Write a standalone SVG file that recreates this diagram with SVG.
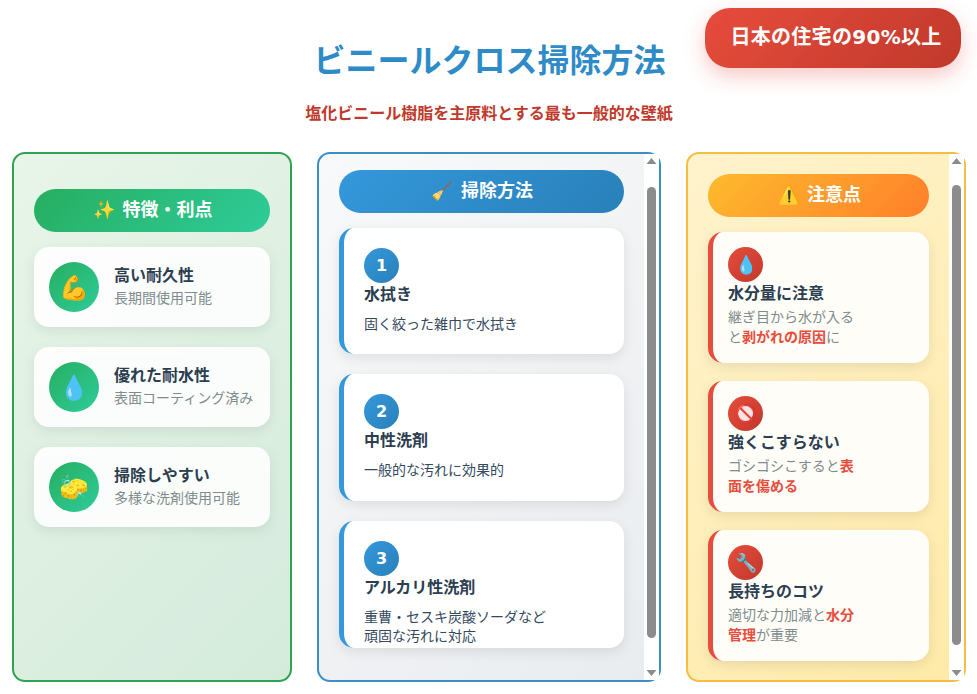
<svg xmlns="http://www.w3.org/2000/svg" width="977" height="694" viewBox="0 0 977 694">
<style>
text{font-family:"Noto Sans CJK JP","Noto Sans",sans-serif}
.h{font-size:18px;font-weight:700;fill:#fff}
.he{font-size:18px;text-anchor:middle}
.t{font-size:16px;font-weight:700;fill:#2c3e50}
.d{font-size:14px;fill:#7f8c8d}
.s{font-size:14px;fill:#34495e}
.r{font-weight:700;fill:#e74c3c}
.n{font-family:"DejaVu Sans",sans-serif;font-size:16px;font-weight:700;fill:#fff;text-anchor:middle}
.e{font-size:24px;text-anchor:middle}
.e2{font-size:18px;text-anchor:middle}
.card{fill:#fff;fill-opacity:.9;filter:url(#sh)}
.wc{fill:#fff;filter:url(#sh)}
.yc{fill:#fffdf8;filter:url(#sh)}
.bb{fill:#3498db}
.rb{fill:#e74c3c}
.sb{fill:#8c8c8c}
.lat{font-family:"DejaVu Sans",sans-serif}
</style>
<defs>
<linearGradient id="sg"><stop offset="0" stop-color="#27ae60"/><stop offset="1" stop-color="#2ecc9a"/></linearGradient>
<linearGradient id="sb"><stop offset="0" stop-color="#3498db"/><stop offset="1" stop-color="#2980b9"/></linearGradient>
<linearGradient id="so"><stop offset="0" stop-color="#fdbb2d"/><stop offset="1" stop-color="#ff7f2a"/></linearGradient>
<linearGradient id="sr"><stop offset="0" stop-color="#e74c3c"/><stop offset="1" stop-color="#c0392b"/></linearGradient>
<linearGradient id="gg" href="#sg" x1="0" y1="0" x2="1" y2="1"/>
<linearGradient id="gb" href="#sb" x1="0" y1="0" x2="1" y2="1"/>
<linearGradient id="gr" href="#sr" x1="0" y1="0" x2="1" y2="1"/>
<linearGradient id="hg" href="#sg" gradientUnits="userSpaceOnUse" x1="82.250" y1="140.750" x2="221.750" y2="280.250"/>
<linearGradient id="hb" href="#sb" gradientUnits="userSpaceOnUse" x1="399.500" y1="109.500" x2="563.500" y2="273.500"/>
<linearGradient id="ho" href="#so" gradientUnits="userSpaceOnUse" x1="752.500" y1="129.500" x2="884.500" y2="261.500"/>
<linearGradient id="hr" href="#sr" gradientUnits="userSpaceOnUse" x1="754" y1="-41" x2="912" y2="117"/>
<linearGradient id="gp1" gradientUnits="userSpaceOnUse" x1="-49.500" y1="215.500" x2="353.500" y2="618.500"><stop offset="0" stop-color="#e8f5e9"/><stop offset="1" stop-color="#d4ebdc"/></linearGradient>
<linearGradient id="gp2" gradientUnits="userSpaceOnUse" x1="271.500" y1="199.500" x2="706.500" y2="634.500"><stop offset="0" stop-color="#f8f9fa"/><stop offset="1" stop-color="#e9ecef"/></linearGradient>
<linearGradient id="gp3" gradientUnits="userSpaceOnUse" x1="624.500" y1="215.500" x2="1027.500" y2="618.500"><stop offset="0" stop-color="#fff3cd"/><stop offset="1" stop-color="#ffeaa7"/></linearGradient>
<filter id="sh" x="-20%" y="-20%" width="140%" height="150%"><feDropShadow dx="0" dy="4" stdDeviation="6" flood-color="#000" flood-opacity=".09"/></filter>
<filter id="shr" x="-20%" y="-40%" width="140%" height="200%"><feDropShadow dx="0" dy="8" stdDeviation="10" flood-color="#e74c3c" flood-opacity=".3"/></filter>
</defs>
<rect width="977" height="694" fill="#fff"/>
<g id="title">
<text x="489.500" y="72" font-size="32" font-weight="700" text-anchor="middle" style="fill:#2e8bc8">ビニールクロス掃除方法</text>
<text x="489" y="119" font-size="16" font-weight="700" text-anchor="middle" style="fill:#c0392b">塩化ビニール樹脂を主原料とする最も一般的な壁紙</text>
</g>
<g id="badge">
<rect x="705" y="8" width="256" height="60" rx="25" fill="url(#hr)" filter="url(#shr)"/>
<text x="836" y="44" font-size="20" font-weight="700" fill="#fff" text-anchor="middle" letter-spacing=".3">日本の住宅の<tspan class="lat">90%</tspan>以上</text>
</g>
<g id="panel-features">
<rect x="13" y="153" width="278" height="528" rx="12" fill="url(#gp1)" stroke="#2fa352" stroke-width="2"/>
<g id="features-header"><rect x="34" y="189" width="236" height="43" rx="21.500" fill="url(#hg)"/><text class="he" x="104" y="216">✨</text><text class="h" x="122.500" y="216">特徴・利点</text></g>
<g id="feature-1"><rect class="card" x="34" y="247" width="236" height="80" rx="15"/><circle cx="74" cy="287" r="25" fill="url(#gg)"/><text class="e" x="74" y="296">💪</text><text class="t" x="114" y="281">高い耐久性</text><text class="d" x="114" y="303">長期間使用可能</text></g>
<g id="feature-2"><rect class="card" x="34" y="347" width="236" height="80" rx="15"/><circle cx="74" cy="387" r="25" fill="url(#gg)"/><text class="e" x="74" y="396">💧</text><text class="t" x="114" y="381">優れた耐水性</text><text class="d" x="114" y="403">表面コーティング済み</text></g>
<g id="feature-3"><rect class="card" x="34" y="447" width="236" height="80" rx="15"/><circle cx="74" cy="487" r="25" fill="url(#gg)"/><text class="e" x="74" y="496">🧽</text><text class="t" x="114" y="481">掃除しやすい</text><text class="d" x="114" y="503">多様な洗剤使用可能</text></g>
</g>
<g id="panel-method">
<rect x="318" y="153" width="342" height="528" rx="12" fill="url(#gp2)" stroke="#3a8fc7" stroke-width="2"/>
<rect x="644" y="154" width="15" height="526" fill="#fff"/>
<path class="sb" d="M651.500 158l5 6h-10z M651.500 676l5-6h-10z"/>
<rect class="sb" x="647" y="187" width="9" height="451" rx="4.500"/>
<g id="method-header"><rect x="339" y="170" width="285" height="43" rx="21.500" fill="url(#hb)"/><text class="he" x="442" y="197">🧹</text><text class="h" x="461" y="197">掃除方法</text></g>
<g id="step-1"><rect class="wc" x="339" y="228" width="285" height="126" rx="15"/><path class="bb" d="M354 228A15 15 0 0 0 339 243V339A15 15 0 0 0 354 354A10 15 0 0 1 344 339V243A10 15 0 0 1 354 228Z"/><circle cx="381.500" cy="265.500" r="17.500" fill="url(#gb)"/><text class="n" x="381.500" y="271">1</text><text class="t" x="364" y="300">水拭き</text><text class="s" x="364" y="329">固く絞った雑巾で水拭き</text></g>
<g id="step-2"><rect class="wc" x="339" y="374" width="285" height="127" rx="15"/><path class="bb" d="M354 374A15 15 0 0 0 339 389V486A15 15 0 0 0 354 501A10 15 0 0 1 344 486V389A10 15 0 0 1 354 374Z"/><circle cx="381.500" cy="411.500" r="17.500" fill="url(#gb)"/><text class="n" x="381.500" y="417">2</text><text class="t" x="364" y="446">中性洗剤</text><text class="s" x="364" y="475">一般的な汚れに効果的</text></g>
<g id="step-3"><rect class="wc" x="339" y="521" width="285" height="127" rx="15"/><path class="bb" d="M354 521A15 15 0 0 0 339 536V633A15 15 0 0 0 354 648A10 15 0 0 1 344 633V536A10 15 0 0 1 354 521Z"/><circle cx="381.500" cy="558.500" r="17.500" fill="url(#gb)"/><text class="n" x="381.500" y="564">3</text><text class="t" x="364" y="593">アルカリ性洗剤</text><text class="s" x="364" y="622">重曹・セスキ炭酸ソーダなど</text><text class="s" x="364" y="641">頑固な汚れに対応</text></g>
</g>
<g id="panel-caution">
<rect x="687" y="153" width="278" height="528" rx="12" fill="url(#gp3)" stroke="#f5bd41" stroke-width="2"/>
<rect x="949" y="154" width="15" height="526" fill="#fff"/>
<path class="sb" d="M956.500 158l5 6h-10z M956.500 676l5-6h-10z"/>
<rect class="sb" x="952" y="185" width="9" height="460" rx="4.500"/>
<g id="caution-header"><rect x="708" y="174" width="221" height="43" rx="21.500" fill="url(#ho)"/><text class="he" x="789" y="201">⚠️</text><text class="h" x="807" y="201">注意点</text></g>
<g id="caution-1"><rect class="yc" x="708" y="232" width="221" height="131" rx="15"/><path class="rb" d="M723 232A15 15 0 0 0 708 247V348A15 15 0 0 0 723 363A10 15 0 0 1 713 348V247A10 15 0 0 1 723 232Z"/><circle cx="745.500" cy="264.500" r="17.500" fill="url(#gr)"/><text class="e2" x="745.500" y="271">💧</text><text class="t" x="728" y="299">水分量に注意</text><text class="d" x="728" y="322">継ぎ目から水が入る</text><text class="d" x="728" y="342">と<tspan class="r">剥がれの原因</tspan>に</text></g>
<g id="caution-2"><rect class="yc" x="708" y="381" width="221" height="131" rx="15"/><path class="rb" d="M723 381A15 15 0 0 0 708 396V497A15 15 0 0 0 723 512A10 15 0 0 1 713 497V396A10 15 0 0 1 723 381Z"/><circle cx="745.500" cy="413.500" r="17.500" fill="url(#gr)"/><circle cx="745.500" cy="413.500" r="7.500" fill="#fbe3e3"/><text class="e2" x="745.500" y="420">🚫</text><text class="t" x="728" y="448">強くこすらない</text><text class="d" x="728" y="471">ゴシゴシこすると<tspan class="r">表</tspan></text><text class="d" x="728" y="491"><tspan class="r">面を傷める</tspan></text></g>
<g id="caution-3"><rect class="yc" x="708" y="530" width="221" height="131" rx="15"/><path class="rb" d="M723 530A15 15 0 0 0 708 545V646A15 15 0 0 0 723 661A10 15 0 0 1 713 646V545A10 15 0 0 1 723 530Z"/><circle cx="745.500" cy="562.500" r="17.500" fill="url(#gr)"/><text class="e2" x="745.500" y="569">🔧</text><text class="t" x="728" y="597">長持ちのコツ</text><text class="d" x="728" y="620">適切な力加減と<tspan class="r">水分</tspan></text><text class="d" x="728" y="640"><tspan class="r">管理</tspan>が重要</text></g>
</g>
</svg>
